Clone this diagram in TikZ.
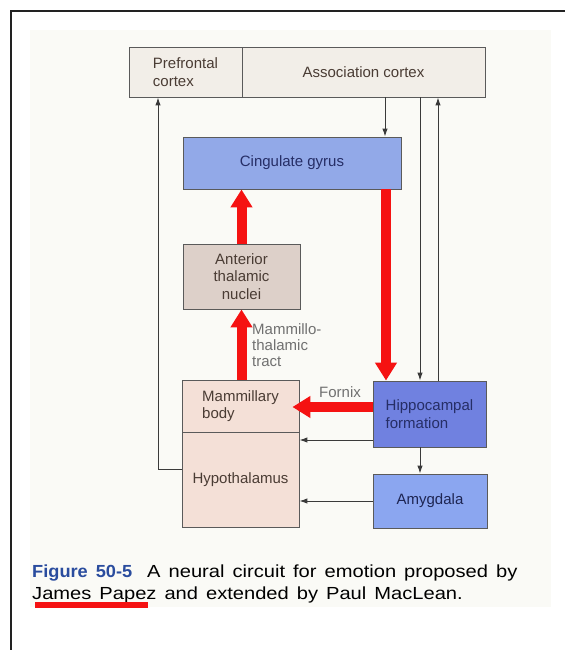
\documentclass[tikz,border=0pt]{standalone}
\usepackage{fontspec}
\setmainfont{Liberation Sans}
\newfontfamily\capfont[FakeStretch=1.15, BoldFeatures={FakeStretch=1.04}]{Liberation Sans}
\newcommand\capwide{\spaceskip=8pt plus 1pt\relax}
\usetikzlibrary{arrows.meta,calc}
\definecolor{frameC}{HTML}{222222}
\definecolor{photoC}{HTML}{FAFAF6}
\definecolor{topfill}{HTML}{F2EEE8}
\definecolor{cgfill}{HTML}{92A9E8}
\definecolor{atfill}{HTML}{DDD0C9}
\definecolor{mbfill}{HTML}{F4E0D7}
\definecolor{hffill}{HTML}{7081E0}
\definecolor{amfill}{HTML}{8BA6F0}
\definecolor{edgeC}{HTML}{5A5A5A}
\definecolor{lineC}{HTML}{3A3A3A}
\definecolor{redC}{HTML}{F51212}
\definecolor{capblue}{HTML}{2A4C9E}
\definecolor{txtbrown}{HTML}{4A3C34}
\definecolor{txtblue}{HTML}{262E66}
\definecolor{graytxt}{HTML}{707070}
\tikzset{
  box/.style={draw=edgeC, line width=0.9pt, inner sep=0pt, align=center,
    font=\fontsize{15}{17.5}\selectfont, text=txtbrown},
  thinarrow/.style={draw=lineC, line width=1pt, -{Latex[length=8pt,width=5.5pt]}},
  redarrow/.style={draw=redC, line width=10pt, -{Triangle[length=18pt,width=21pt]}},
  lbl/.style={font=\fontsize{15}{16}\selectfont, text=graytxt, inner sep=0pt, align=left},
  captext/.style={anchor=base west, inner sep=0pt, font=\capfont\fontsize{17.5}{20}\selectfont}
}
\begin{document}
\begin{tikzpicture}[x=1pt,y=-1pt]
\useasboundingbox (0,0) rectangle (565,650);
% photo background
\fill[photoC] (30,30) rectangle (551,607);
% frame
\draw[frameC, line width=2pt] (11,650) -- (11,11) -- (565,11);
% helper coordinates
\coordinate (xa) at (385,0);
\coordinate (xb) at (420,0);
\coordinate (xc) at (438,0);
\coordinate (xr) at (386,0);
\coordinate (xp) at (158,469);
\coordinate (yb) at (0,440);
\coordinate (yf) at (0,407);
% boxes
\node[box, fill=topfill, minimum width=113pt, minimum height=50pt, align=left] (pf) at (185.5,72) {Prefrontal\\cortex};
\node[box, fill=topfill, minimum width=243pt, minimum height=50pt] (ac) at (363.5,72) {Association cortex};
\node[box, fill=cgfill, minimum width=218pt, minimum height=52pt, text=txtblue] (cg) at (292,163) {Cingulate gyrus};
\node[box, fill=atfill, minimum width=117pt, minimum height=65pt] (at) at (241.5,276.5) {Anterior\\thalamic\\nuclei};
\node[box, fill=mbfill, minimum width=117pt, minimum height=52pt, align=left] (mb) at (240.5,406) {Mammillary\\body};
\node[box, fill=mbfill, minimum width=117pt, minimum height=95pt] (hy) at (240.5,479.5) {Hypothalamus};
\node[box, fill=hffill, minimum width=113pt, minimum height=66pt, align=left, text=txtblue] (hf) at (429.5,414) {Hippocampal\\formation};
\node[box, fill=amfill, minimum width=114pt, minimum height=54pt, text=txtblue!80!black] (am) at (430,501) {Amygdala};
% thin connectors
\draw[thinarrow] (ac.south -| xa) -- (cg.north -| xa);
\draw[thinarrow] (ac.south -| xb) -- (hf.north -| xb);
\draw[thinarrow] (hf.north -| xc) -- (ac.south -| xc);
\draw[thinarrow] (hy.west |- xp) -| (pf.south -| xp);
\draw[thinarrow] (hf.west |- yb) -- (hy.east |- yb);
\draw[thinarrow] (hf.south -| xb) -- (am.north -| xb);
\draw[thinarrow] (am.west) -- (am.west -| hy.east);
% red connectors
\draw[redarrow] (at.north) -- (at.north |- cg.south);
\draw[redarrow] (mb.north -| at.south) -- (at.south);
\draw[redarrow] (cg.south -| xr) -- (hf.north -| xr);
\draw[redarrow, shorten >=-7pt] (hf.west |- yf) -- (mb.east |- yf);
% labels
\node[lbl, anchor=north west] (mtt) at (252,323) {Mammillo-\\thalamic\\tract};
\node[lbl, anchor=center] (fx) at (340,392) {Fornix};
% caption
\node[captext] (cap1) at (32,577)
  {\capwide\textcolor{capblue}{\textbf{Figure 50-5}}\hspace{15pt}A neural circuit for emotion proposed by};
\node[captext] (cap2) at (32,599)
  {\capwide James Papez and extended by Paul MacLean.};
\fill[redC] (35,602) rectangle (148,608);
\end{tikzpicture}
\end{document}
